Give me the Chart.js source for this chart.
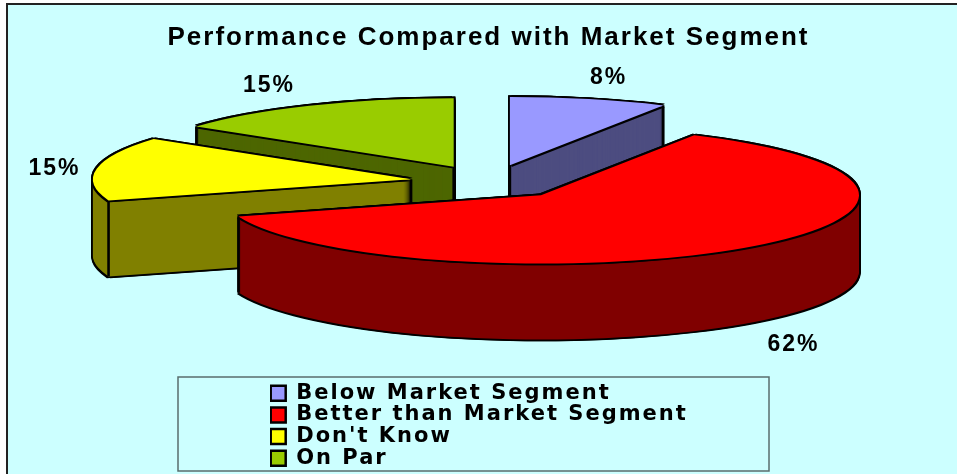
<!DOCTYPE html>
<html>
<head>
<meta charset="utf-8">
<title>Performance Compared with Market Segment</title>
<script src="https://cdn.jsdelivr.net/npm/chart.js@4/dist/chart.umd.js"></script>
<style>
  html, body { margin: 0; padding: 0; background: #fff; }
  canvas { display: block; }
</style>
</head>
<body>
<canvas id="pie3d" width="957" height="474"></canvas>
<script>
const categories = [ 'Below Market Segment', 'Better than Market Segment', "Don't Know", 'On Par' ];
const shareValues = [ 8, 62, 15, 15 ];
const topColors = [ '#9999FF', '#FF0000', '#FFFF00', '#99CC00' ];
const sideColors = [ '#4D4D80', '#800000', '#808000', '#4D6600' ];

// back-to-front paint order of the slices
const paintOrder = [ 0, 3, 2, 1 ];
// how far out from each slice's tip its percent label sits, and a small vertical nudge
const labelReach = [ 397, 396, 361, 407 ];
const labelNudge = [ -5, 8, 1, -3 ];

const pie = { cx: 490, cy: 182, radius: 318, squash: 0.215, explode: 80, depth: 76 };
const frame = { left: 7, top: 4, fill: '#CCFFFF' };
const legendBox = { left: 178, top: 377, right: 769, bottom: 471 };
const edge = 1.7;

function sliceOrigin ( arc ) {
    const mid = ( arc.startAngle + arc.endAngle ) / 2;
    return {
        x: pie.cx + Math.cos( mid ) * pie.explode,
        y: pie.cy + Math.sin( mid ) * pie.explode * pie.squash
    };
}

// arcs are drawn flat by Chart.js, so squash the context around the slice tip
function paintArc ( ctx, arc, color, dx, dy ) {
    const saved = arc.options;
    const o = sliceOrigin( arc );
    ctx.save();
    ctx.translate( o.x + dx, o.y + dy );
    ctx.scale( 1, pie.squash );
    ctx.translate( -arc.x, -arc.y );
    arc.options = { ...saved, backgroundColor: color, borderWidth: 0 };
    arc.draw( ctx );
    arc.options = saved;
    ctx.restore();
}

function paintOutlined ( ctx, arc, dy ) {
    [ [ -edge, -edge ], [ edge, -edge ], [ -edge, edge ], [ edge, edge ] ].forEach( ( [ ox, oy ] ) => {
        paintArc( ctx, arc, '#000', ox, dy + oy );
    } );
}

function drop ( ctx, x, y ) {
    ctx.beginPath();
    ctx.moveTo( x, y );
    ctx.lineTo( x, y + pie.depth );
    ctx.stroke();
}

// vertical edges of the wall: only the corners that face the viewer get one
function paintCorners ( ctx, arc ) {
    const o = sliceOrigin( arc );
    const eps = 0.01;
    const startFace = -Math.cos( arc.startAngle ) > eps;
    const endFace = Math.cos( arc.endAngle ) > eps;
    const rimPoint = ( a ) => [ o.x + Math.cos( a ) * pie.radius, o.y + Math.sin( a ) * pie.radius * pie.squash ];

    ctx.save();
    ctx.strokeStyle = '#000';
    ctx.lineWidth = 2.6;
    if ( startFace || endFace ) drop( ctx, o.x, o.y );
    if ( startFace || Math.sin( arc.startAngle ) > eps ) drop( ctx, ...rimPoint( arc.startAngle ) );
    if ( endFace || Math.sin( arc.endAngle ) > eps ) drop( ctx, ...rimPoint( arc.endAngle ) );
    ctx.restore();
}

const pie3dPlugin = {
    id: 'pie3d',
    afterLayout ( chart ) {
        // move the column legend into its box under the pie; it clips to its own
        // bounds, so those have to cover the letter-spaced text
        const legend = chart.legend;
        legend.left = 270; legend.top = 382;
        legend.right = legendBox.right; legend.bottom = legendBox.bottom;
        chart.titleBlock.left += 10;
        chart.titleBlock.right += 10;
    },
    beforeDraw ( chart ) {
        const { ctx, width, height } = chart;
        ctx.save();
        ctx.fillStyle = '#fff';
        ctx.fillRect( 0, 0, width, height );
        ctx.fillStyle = frame.fill;
        ctx.fillRect( frame.left, frame.top, width, height );
        ctx.strokeStyle = '#222';
        ctx.lineWidth = 2;
        ctx.beginPath();
        ctx.moveTo( frame.left, height );
        ctx.lineTo( frame.left, frame.top );
        ctx.lineTo( width, frame.top );
        ctx.stroke();
        ctx.strokeStyle = '#586E6E';
        ctx.lineWidth = 1.5;
        ctx.strokeRect( legendBox.left, legendBox.top, legendBox.right - legendBox.left, legendBox.bottom - legendBox.top );
        ctx.restore();
        ctx.letterSpacing = '2px';
    },
    beforeDatasetsDraw ( chart ) {
        const { ctx } = chart;
        const arcs = chart.getDatasetMeta( 0 ).data;
        paintOrder.forEach( ( i ) => {
            const arc = arcs[ i ];
            for ( let d = pie.depth; d >= 0; d-- ) paintOutlined( ctx, arc, d );
            for ( let d = pie.depth; d >= 0; d-- ) paintArc( ctx, arc, sideColors[ i ], 0, d );
            paintCorners( ctx, arc );
            paintOutlined( ctx, arc, 0 );
            paintArc( ctx, arc, topColors[ i ], 0, 0 );
        } );

        ctx.save();
        ctx.font = 'bold 23px "Liberation Sans", Arial, sans-serif';
        ctx.letterSpacing = '2px';
        ctx.fillStyle = '#000';
        ctx.textAlign = 'center';
        ctx.textBaseline = 'middle';
        arcs.forEach( ( arc, i ) => {
            const mid = ( arc.startAngle + arc.endAngle ) / 2;
            const o = sliceOrigin( arc );
            const x = o.x + Math.cos( mid ) * labelReach[ i ];
            let y = o.y + Math.sin( mid ) * labelReach[ i ] * pie.squash + labelNudge[ i ];
            if ( Math.sin( mid ) > 0.5 ) y += pie.depth;
            ctx.fillText( shareValues[ i ] + '%', x, y );
        } );
        ctx.restore();
        return false;
    }
};

new Chart( document.getElementById( 'pie3d' ), {
    type: 'pie',
    plugins: [ pie3dPlugin ],
    data: {
        labels: categories,
        datasets: [ {
            data: shareValues,
            backgroundColor: topColors,
            borderColor: '#000',
            borderWidth: 2.5,
            radius: pie.radius
        } ]
    },
    options: {
        responsive: false,
        animation: false,
        events: [],
        layout: { padding: 0 },
        plugins: {
            tooltip: { enabled: false },
            title: {
                display: true,
                text: 'Performance Compared with Market Segment',
                color: '#000',
                font: { family: '"Liberation Sans", Arial, sans-serif', size: 26, weight: 'bold', lineHeight: 1.2 },
                padding: { top: 22, bottom: 0 }
            },
            legend: {
                position: 'left',
                align: 'start',
                maxWidth: 640,
                labels: {
                    color: '#000',
                    boxWidth: 15,
                    boxHeight: 15,
                    padding: 0.7,
                    font: { family: '"DejaVu Sans", sans-serif', size: 21, weight: 'bold', lineHeight: 1 }
                }
            }
        }
    }
} );
</script>
</body>
</html>
